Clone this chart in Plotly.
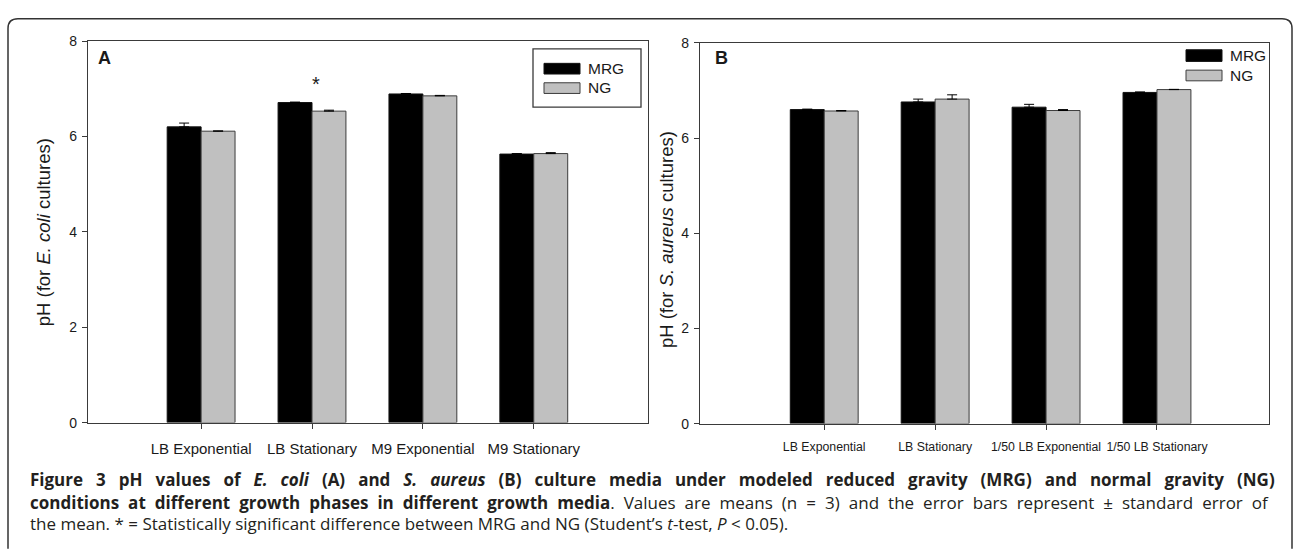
import plotly.graph_objects as go

W, H = 1293, 552

# ---------------- data ----------------
cats_a = ["LB Exponential", "LB Stationary", "M9 Exponential", "M9 Stationary"]
mrg_a = [6.20, 6.71, 6.89, 5.63]
mrg_a_err = [0.08, 0.01, 0.01, 0.01]
ng_a = [6.11, 6.53, 6.85, 5.64]
ng_a_err = [0.005, 0.02, 0.01, 0.02]

cats_b = ["LB Exponential", "LB Stationary", "1/50 LB Exponential", "1/50 LB Stationary"]
mrg_b = [6.60, 6.76, 6.65, 6.96]
mrg_b_err = [0.01, 0.06, 0.06, 0.01]
ng_b = [6.57, 6.82, 6.58, 7.02]
ng_b_err = [0.01, 0.09, 0.02, 0.005]

yticks = [0, 2, 4, 6, 8]
series_names = ["MRG", "NG"]
signif_cat = 1      # index of the starred category in panel A
signif_y = 7.1

# ---------------- helpers ----------------
def px(x):
    return x / W

def py(y):
    return 1 - y / H

BLACK = "#000000"
GREY = "#c0c0c0"
AX = "#3a3a3a"
TXT = "#1a1a1a"
FONT = "Liberation Sans, Arial, sans-serif"

fig = go.Figure()

def add_pair(xax, yax, mrg, mrg_err, ng, ng_err):
    idx = list(range(len(mrg)))
    fig.add_trace(go.Bar(
        x=idx, y=mrg, name=series_names[0], xaxis=xax, yaxis=yax,
        marker=dict(color=BLACK, line=dict(color="#111111", width=1)),
        error_y=dict(type="data", symmetric=False, array=mrg_err,
                     arrayminus=[0] * len(mrg), color=BLACK, thickness=1, width=5),
        showlegend=False, offsetgroup="m"))
    fig.add_trace(go.Bar(
        x=idx, y=ng, name=series_names[1], xaxis=xax, yaxis=yax,
        marker=dict(color=GREY, line=dict(color="#3c3c3c", width=1)),
        error_y=dict(type="data", symmetric=False, array=ng_err,
                     arrayminus=[0] * len(ng), color=BLACK, thickness=1, width=5),
        showlegend=False, offsetgroup="n"))

add_pair("x", "y", mrg_a, mrg_a_err, ng_a, ng_a_err)
add_pair("x2", "y2", mrg_b, mrg_b_err, ng_b, ng_b_err)

common_x = dict(showline=True, linecolor=AX, linewidth=1.3, mirror=True,
                ticks="outside", ticklen=5, tickcolor=AX, tickwidth=1,
                showgrid=False, zeroline=False, tickvals=[0, 1, 2, 3])
common_y = dict(showline=True, linecolor=AX, linewidth=1.3, mirror=True,
                ticks="outside", ticklen=5, tickcolor=AX, tickwidth=1,
                showgrid=False, zeroline=False, range=[0, 8], tickvals=yticks,
                ticklabelstandoff=2,
                tickfont=dict(family=FONT, size=14, color=TXT))

fig.update_layout(
    width=W, height=H,
    margin=dict(l=0, r=0, t=0, b=0),
    paper_bgcolor="white", plot_bgcolor="white",
    barmode="group", bargap=0.388, bargroupgap=0,
    xaxis=dict(common_x, domain=[px(88), px(648)], range=[-1.02, 4.03],
               ticktext=cats_a, anchor="y", ticklabelstandoff=7,
               tickfont=dict(family=FONT, size=15, color=TXT)),
    yaxis=dict(common_y, domain=[py(427), py(34)], anchor="x"),
    xaxis2=dict(common_x, domain=[px(700), px(1269)], range=[-1.12, 4.01],
                ticktext=cats_b, anchor="y2", ticklabelstandoff=6,
                tickfont=dict(family=FONT, size=12.3, color=TXT)),
    yaxis2=dict(common_y, domain=[py(428), py(36)], anchor="x2"),
)

shapes = []
annos = []

# outer rounded frame
r = 10
x0, x1, y0 = 8, 1292, 11
path = (f"M {px(x0)},{py(H + 5)} L {px(x0)},{py(y0 + r)} "
        f"Q {px(x0)},{py(y0)} {px(x0 + r)},{py(y0)} "
        f"L {px(x1 - r)},{py(y0)} Q {px(x1)},{py(y0)} {px(x1)},{py(y0 + r)} "
        f"L {px(x1)},{py(H + 5)}")
shapes.append(dict(type="path", path=path, xref="paper", yref="paper",
                   line=dict(color="#333333", width=1.5)))

# legend A (boxed)
shapes.append(dict(type="rect", xref="paper", yref="paper",
                   x0=px(533), x1=px(641), y0=py(102), y1=py(42),
                   line=dict(color=AX, width=1.3), fillcolor="white"))
def legend(xs, ys_m, ys_n, tx, ty_m, ty_n):
    shapes.append(dict(type="rect", xref="paper", yref="paper",
                       x0=px(xs[0]), x1=px(xs[1]), y0=py(ys_m[1]), y1=py(ys_m[0]),
                       line=dict(color="#111111", width=1), fillcolor=BLACK))
    shapes.append(dict(type="rect", xref="paper", yref="paper",
                       x0=px(xs[0]), x1=px(xs[1]), y0=py(ys_n[1]), y1=py(ys_n[0]),
                       line=dict(color="#3c3c3c", width=1), fillcolor=GREY))
    for name, ty in zip(series_names, (ty_m, ty_n)):
        annos.append(dict(xref="paper", yref="paper", x=px(tx), y=py(ty),
                          xanchor="left", yanchor="middle", showarrow=False,
                          text=name, font=dict(family=FONT, size=15.5, color=TXT)))

legend((544, 580), (57, 68), (77, 88), 586, 62, 82)
legend((1186, 1222), (43, 55), (64, 75), 1228, 49, 70)

# panel letters
annos.append(dict(xref="paper", yref="paper", x=px(96), y=py(52), xanchor="left",
                  yanchor="middle", showarrow=False, text="<b>A</b>",
                  font=dict(family=FONT, size=18, color=TXT)))
annos.append(dict(xref="paper", yref="paper", x=px(713), y=py(52), xanchor="left",
                  yanchor="middle", showarrow=False, text="<b>B</b>",
                  font=dict(family=FONT, size=18, color=TXT)))

# y-axis titles
annos.append(dict(xref="paper", yref="paper", x=px(43), y=py(231), textangle=-90,
                  xanchor="center", yanchor="middle", showarrow=False,
                  text="pH (for <i>E. coli</i> cultures)",
                  font=dict(family=FONT, size=18.5, color=TXT)))
annos.append(dict(xref="paper", yref="paper", x=px(666), y=py(238), textangle=-90,
                  xanchor="center", yanchor="middle", showarrow=False,
                  text="pH (for <i>S. aureus</i> cultures)",
                  font=dict(family=FONT, size=18.5, color=TXT)))

# significance star
annos.append(dict(xref="x", yref="y", x=signif_cat + 0.04, y=signif_y,
                  xanchor="center", yanchor="middle", showarrow=False, text="*",
                  font=dict(family=FONT, size=20, color=TXT)))

# caption (first two lines are justified in the original -> extra word spacing)
CF = "Open Sans, Noto Sans, sans-serif"
cap_lines = [
    "<b>Figure 3 pH values of <i>E. coli</i> (A) and <i>S. aureus</i> (B) culture media under modeled reduced gravity (MRG) and normal gravity (NG)</b>",
    "<b>conditions at different growth phases in different growth media</b>. Values are means (n = 3) and the error bars represent ± standard error of",
    "the mean. * = Statistically significant difference between MRG and NG (Student’s <i>t</i>-test, <i>P</i> &lt; 0.05).",
]
word_sp = [8.6, 4.6, 0]
for txt, yy, ws in zip(cap_lines, (486, 509, 531), word_sp):
    if ws:
        txt = f"<span style='word-spacing:{ws}px'>{txt}</span>"
    annos.append(dict(xref="paper", yref="paper", x=px(28), y=py(yy),
                      xanchor="left", yanchor="middle", showarrow=False,
                      text=txt, font=dict(family=CF, size=17, color="#231f20")))

fig.update_layout(shapes=shapes, annotations=annos)
fig.write_html("out.html", config={"displayModeBar": False},
               post_script="document.body.style.margin='0';document.body.style.overflow='hidden';")
